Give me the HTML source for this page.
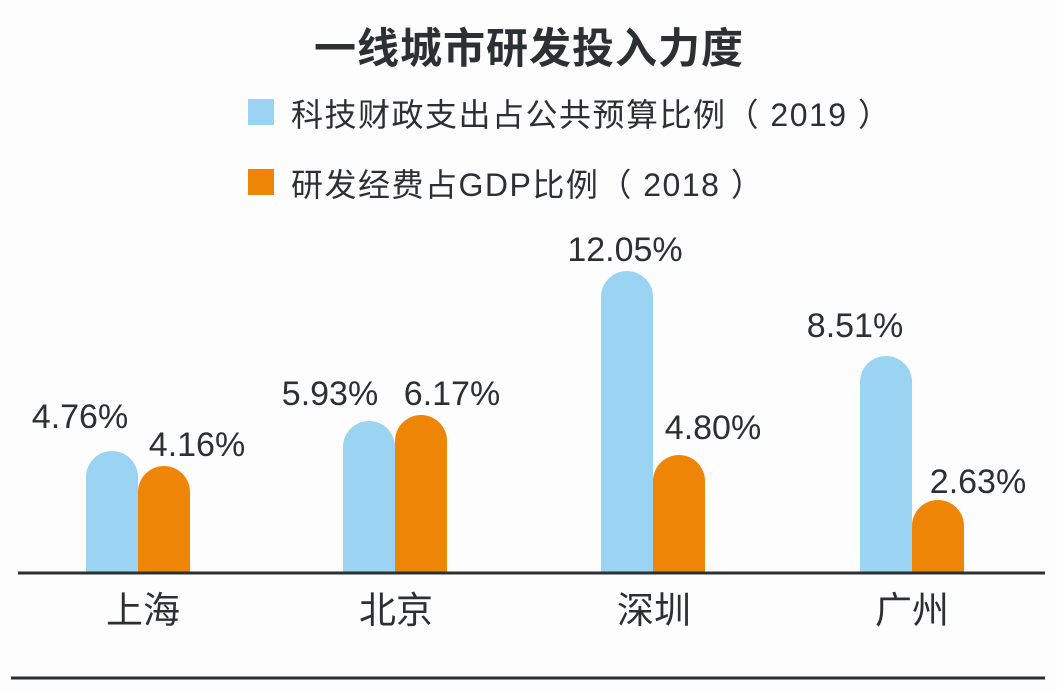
<!DOCTYPE html>
<html><head><meta charset="utf-8"><style>
body{margin:0;background:#fdfdfd;}
svg{display:block}
text{font-family:"Liberation Sans","Noto Sans CJK SC",sans-serif;fill:#2b3033}
</style></head><body>
<svg width="1057" height="691" viewBox="0 0 1057 691">
<rect width="1057" height="691" fill="#fdfdfd"/>
<text x="529" y="63" text-anchor="middle" font-size="42" font-weight="bold" letter-spacing="1" style="font-family:'Noto Sans CJK SC',sans-serif">一线城市研发投入力度</text>
<rect x="248" y="99" width="26" height="26" fill="#9bd3f2"/>
<rect x="248" y="169" width="26" height="26" fill="#ee8506"/>
<text x="291" y="126" font-size="32" letter-spacing="1.5">科技财政支出占公共预算比例（ 2019 ）</text>
<text x="291" y="196" font-size="32" letter-spacing="1.5">研发经费占GDP比例（ 2018 ）</text>
<g>
<path d="M86 572 V477 A26 26 0 0 1 138 477 V572Z" fill="#9bd3f2"/>
<path d="M138 572 V492 A26 26 0 0 1 190 492 V572Z" fill="#ee8506"/>
<path d="M343 572 V447 A26 26 0 0 1 395 447 V572Z" fill="#9bd3f2"/>
<path d="M395 572 V441 A26 26 0 0 1 447 441 V572Z" fill="#ee8506"/>
<path d="M601 572 V297 A26 26 0 0 1 653 297 V572Z" fill="#9bd3f2"/>
<path d="M653 572 V481 A26 26 0 0 1 705 481 V572Z" fill="#ee8506"/>
<path d="M860 572 V382 A26 26 0 0 1 912 382 V572Z" fill="#9bd3f2"/>
<path d="M912 572 V526 A26 26 0 0 1 964 526 V572Z" fill="#ee8506"/>
</g>
<g font-size="34" text-anchor="middle">
<text x="80" y="428">4.76%</text>
<text x="197" y="456">4.16%</text>
<text x="330" y="405">5.93%</text>
<text x="452" y="405">6.17%</text>
<text x="625" y="261">12.05%</text>
<text x="713" y="439">4.80%</text>
<text x="855" y="337">8.51%</text>
<text x="978" y="493">2.63%</text>
</g>
<line x1="18" y1="573" x2="1045" y2="573" stroke="#2b3033" stroke-width="3"/>
<line x1="11" y1="678" x2="1045" y2="678" stroke="#2b3033" stroke-width="3"/>
<g font-size="37" text-anchor="middle">
<text x="143" y="623">上海</text>
<text x="396" y="623">北京</text>
<text x="654" y="623">深圳</text>
<text x="912" y="623">广州</text>
</g>
</svg>
</body></html>
